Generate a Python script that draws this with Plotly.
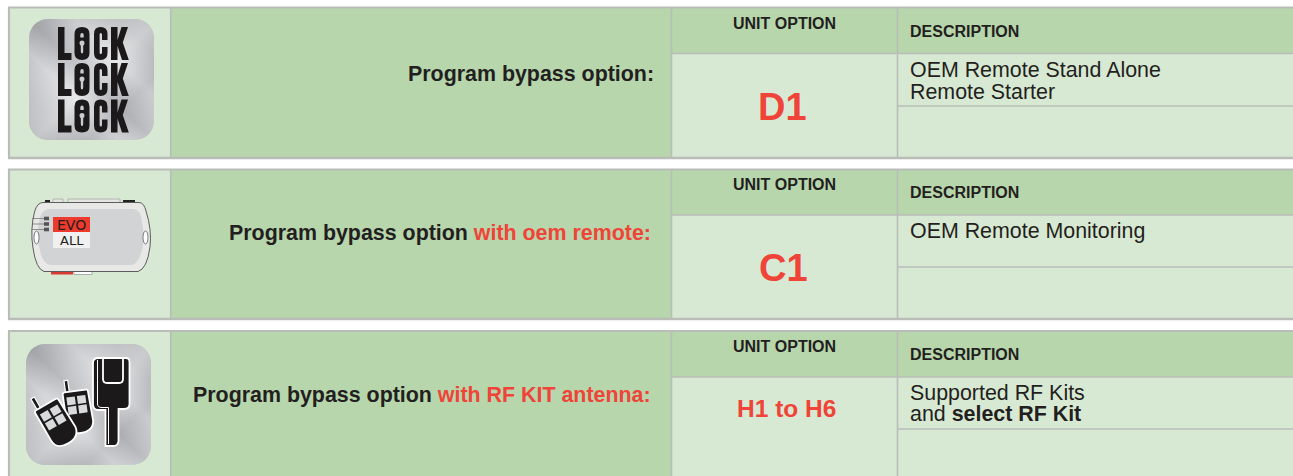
import base64
import math
import re
import plotly.graph_objects as go

# ---------- content ----------
label_main = ["Program bypass option:", "Program bypass option", "Program bypass option"]
label_red = ["", "with oem remote:", "with RF KIT antenna:"]
unit_header = ["UNIT OPTION", "UNIT OPTION", "UNIT OPTION"]
desc_header = ["DESCRIPTION", "DESCRIPTION", "DESCRIPTION"]
unit_values = ["D1", "C1", "H1 to H6"]
desc_line1 = ["OEM Remote Stand Alone", "OEM Remote Monitoring", "Supported RF Kits"]
desc_line2 = ["Remote Starter", "", "and <b>select RF Kit</b>"]

# ---------- styles ----------
LIGHT = "#d8e9d3"
DARK = "#b7d6ac"
GRID = "#b8bdb8"
INK = "#231f20"
RED = "#ef4437"
FONT = "Liberation Sans"

W, H = 1293, 476
tops = [7.5, 169.5, 331]
hdrs = [53.5, 215, 377]
mids = [106, 267, 429]
bottoms = [158, 319, 481]
label_right = [654, 651, 651]
unit_sizes = [38, 38, 24.5]
unit_x = [782.5, 783.5, 786]
label_y = [74, 233, 395]
unit_h_y = [23.5, 184.5, 346.5]
desc_h_y = [31.5, 192.5, 354.5]
unit_y = [107, 268, 408]
line1_y = [70, 231, 393]
line2_y = [92, None, 414]

shapes, annots = [], []


def rect(x0, y0, x1, y1, fill, layer="below"):
    shapes.append(dict(type="rect", xref="x", yref="y", x0=x0, y0=y0, x1=x1, y1=y1,
                       fillcolor=fill, line=dict(width=0), layer=layer))


def hline(x0, x1, y, width=1.6):
    shapes.append(dict(type="line", xref="x", yref="y", x0=x0, x1=x1, y0=y, y1=y,
                       line=dict(color=GRID, width=width), layer="below"))


def vline(x, y0, y1, width=1.6):
    shapes.append(dict(type="line", xref="x", yref="y", x0=x, x1=x, y0=y0, y1=y1,
                       line=dict(color=GRID, width=width), layer="below"))


def path(d, fill=None, line=None, lw=0, layer="above"):
    s = dict(type="path", xref="x", yref="y", path=d, layer=layer,
             line=dict(width=lw, color=line or "rgba(0,0,0,0)"))
    s["fillcolor"] = fill if fill else "rgba(0,0,0,0)"
    shapes.append(s)


def shift(d, dx=0, dy=0):
    out, cmd, idx = [], "", 0
    for tok in re.findall(r"[MLHVQCZ]|-?\d+\.?\d*", d):
        if tok.isalpha():
            cmd, idx = tok, 0
            out.append(tok)
            continue
        v = float(tok)
        if cmd == "H":
            v += dx
        elif cmd == "V":
            v += dy
        else:
            v += dx if idx % 2 == 0 else dy
        idx += 1
        out.append(f"{v:.2f}")
    res = ""
    prev_num = False
    for t in out:
        if t.isalpha():
            res += t
            prev_num = False
        else:
            res += ("," if prev_num else "") + t
            prev_num = True
    return res


def place(d, cx, cy, deg, k=1.0):
    """scale and rotate a local-coordinate path (M L Q Z only) and move it"""
    a = math.radians(deg)
    out, buf = [], []
    for tok in re.findall(r"[MLQZ]|-?\d+\.?\d*", d):
        if tok.isalpha():
            out.append(tok)
            continue
        buf.append(float(tok) * k)
        if len(buf) == 2:
            x, y = buf
            buf = []
            out.append(f"{cx + x * math.cos(a) - y * math.sin(a):.2f},{cy + x * math.sin(a) + y * math.cos(a):.2f}")
    res = ""
    for i, t in enumerate(out):
        if i and not t.isalpha() and not out[i - 1].isalpha():
            res += " "
        res += t
    return res


def text(x, y, s, size, anchor, color=INK, font=FONT):
    annots.append(dict(x=x, y=y, xref="x", yref="y", text=s, showarrow=False, xanchor=anchor,
                       yanchor="middle", font=dict(family=font, size=size, color=color),
                       borderpad=0, borderwidth=0))


# ---------- table panels ----------
for i, t in enumerate(tops):
    bottom, hdr, mid = bottoms[i], hdrs[i], mids[i]
    rect(9, t, 171, bottom, LIGHT)
    rect(171, t, 1293, hdr, DARK)
    rect(171, t, 671, bottom, DARK)
    rect(671, hdr, 1293, bottom, LIGHT)
    hline(8, 1293, t, 1.8)
    hline(8, 1293, bottom, 2.4)
    hline(671, 1293, hdr)
    hline(897, 1293, mid)
    vline(9, t, bottom, 2.2)
    vline(170.7, t, bottom)
    vline(671.5, t, bottom)
    vline(897.5, t, bottom)

    lab = label_main[i]
    if label_red[i]:
        lab += f" <span style='color:{RED}'>{label_red[i]}</span>"
    text(label_right[i], label_y[i], f"<b>{lab}</b>", 21.4, "right")
    text(784.5, unit_h_y[i], f"<b>{unit_header[i]}</b>", 16, "center")
    text(910, desc_h_y[i], f"<b>{desc_header[i]}</b>", 16, "left")
    text(unit_x[i], unit_y[i], f"<b>{unit_values[i]}</b>", unit_sizes[i], "center", RED)
    text(910, line1_y[i], desc_line1[i], 21.4, "left")
    if desc_line2[i]:
        text(910, line2_y[i], desc_line2[i], 21.4, "left")

# ---------- brushed metal tiles ----------
METAL = """<svg xmlns='http://www.w3.org/2000/svg' width='250' height='242' viewBox='0 0 125 121'>
<defs>
<linearGradient id='a' x1='0' y1='1' x2='1' y2='0'>
<stop offset='0' stop-color='#8f9195'/><stop offset='.2' stop-color='#b7b9bc'/>
<stop offset='.36' stop-color='#e2e3e5'/><stop offset='.5' stop-color='#adafb3'/>
<stop offset='.68' stop-color='#e0e1e3'/><stop offset='.85' stop-color='#aeb0b3'/>
<stop offset='1' stop-color='#9fa1a5'/></linearGradient>
<linearGradient id='b' x1='0' y1='0' x2='1' y2='1'>
<stop offset='0' stop-color='#8b8d91'/><stop offset='.28' stop-color='#c8c9cc'/>
<stop offset='.52' stop-color='#eeeff0'/><stop offset='.74' stop-color='#a9abaf'/>
<stop offset='1' stop-color='#d6d7d9'/></linearGradient>
</defs>
<rect width='125' height='121' rx='19' fill='url(#a)'/>
<rect width='125' height='121' rx='19' fill='url(#b)' opacity='.5'/>
</svg>"""
metal_src = "data:image/svg+xml;base64," + base64.b64encode(METAL.encode()).decode()
images = [
    dict(source=metal_src, xref="x", yref="y", x=29, y=19, sizex=125, sizey=121,
         sizing="stretch", layer="above", xanchor="left", yanchor="top"),
    dict(source=metal_src, xref="x", yref="y", x=26, y=344, sizex=125, sizey=121,
         sizing="stretch", layer="above", xanchor="left", yanchor="top"),
]

# ---------- LOCK LOCK LOCK artwork ----------
BLACK = "#1b191a"
HOLE = "#c9cbcd"
G_L = "M58,27 H64.5 V53 H71.5 V60 H58 Z"
G_O = "M74.5,34 Q74.5,27 82,27 Q89.5,27 89.5,34 V53 Q89.5,60 82,60 Q74.5,60 74.5,53 Z"
G_O_TOP = "M80.3,35 Q80.3,33 82,33 Q83.7,33 83.7,35 V37.5 H80.3 Z"
G_O_KEY = ("M79.5,43 Q79.5,40.5 82,40.5 Q84.5,40.5 84.5,43 Q84.5,44.8 83.2,45.7 V51.5 Q83.2,53.5 82,53.5 "
           "Q80.8,53.5 80.8,51.5 V45.7 Q79.5,44.8 79.5,43 Z")
G_C = ("M94,34 Q94,27 100.5,27 Q107.5,27 107.5,34 V40 H102 V34.5 Q102,33 100.7,33 "
       "Q99.6,33 99.6,34.5 V52.5 Q99.6,54 100.7,54 Q102,54 102,52.5 V47 H107.5 V53 "
       "Q107.5,60 100.5,60 Q94,60 94,53 Z")
G_K = "M111,27 H117.5 V40 L121.5,27 H128 L122.8,42.5 L128.8,60 H122 L117.5,46 V60 H111 Z"
for dy in (0, 36, 72.5):
    for g in (G_L, G_O, G_C, G_K):
        path(shift(g, 0, dy), fill=BLACK)
    path(shift(G_O_TOP, 0, dy), fill=HOLE)
    path(shift(G_O_KEY, 0, dy), fill=HOLE)

# ---------- EVO ALL module artwork ----------
EDGE = "#5c5c5e"
rect(45, 200, 50, 203, "#222222", "above")
for x0, x1 in ((53, 63), (68, 120)):
    shapes.append(dict(type="rect", xref="x", yref="y", x0=x0, x1=x1, y0=199, y1=203,
                       fillcolor="#e4e7e1", line=dict(color="#a6a8a6", width=0.8), layer="above"))
rect(123, 200, 135, 203.5, "#222222", "above")
rect(51, 271, 73, 274.5, "#d63a30", "above")
shapes.append(dict(type="rect", xref="x", yref="y", x0=74, x1=92, y0=271, y1=274.5,
                   fillcolor="#ffffff", line=dict(color="#9a9a9a", width=0.8), layer="above"))
path("M43,202.5 L139,202.5 Q144,202.5 146,211 Q152,230 150,247 Q147,269 138,271.5 L44,271.5 "
     "Q36,269 33,248 Q30,230 34.5,212 Q37,202.5 43,202.5 Z", fill="#e8e9e7", line=EDGE, lw=1)
path("M48,209 L134,209 Q141,210 142,222 Q145,238 142,250 Q139,263 132,265 L50,265 "
     "Q42,263 40,250 Q36,238 39,222 Q41,210 48,209 Z", fill="#d2d3d5")
for x0, x1 in ((34, 39), (143, 148)):
    shapes.append(dict(type="circle", xref="x", yref="y", x0=x0, x1=x1, y0=231, y1=244,
                       fillcolor="#ffffff", line=dict(color=EDGE, width=0.8), layer="above"))
for yy in (218.5, 224, 229.5):
    shapes.append(dict(type="line", xref="x", yref="y", x0=32, x1=45, y0=yy, y1=yy,
                       line=dict(color="#777777", width=0.8), layer="above"))
    rect(44, yy - 1.8, 49, yy + 1.8, "#555555", "above")
rect(53, 217, 90, 232, "#ee3a2c", "above")
rect(53, 232, 90, 248, "#f0f0f0", "above")
text(71.5, 225, "EVO", 14, "center", "#231f20", "DejaVu Sans")
text(71.5, 240.5, "ALL", 13, "center", "#231f20", "DejaVu Sans")

# ---------- remotes and antenna artwork ----------
WHITE = "#ffffff"
R_BODY = ("M-10,-20 L10,-20 Q12,-20 12,-18 L13,10 Q12,20 0,20 Q-12,20 -12,10 L-12,-18 "
          "Q-12,-20 -10,-20 Z")
R_ANT = "M-9,-20 L-9,-31 L-5.5,-31 L-5.5,-20 Z"
R_BTNS = ["M-9,-15 L-1,-15 L-1,-7.5 L-9,-7.5 Z", "M1,-15 L9,-15 L9,-7.5 L1,-7.5 Z",
          "M-9,-6 L-1,-6 L-1,1.5 L-9,1.5 Z", "M1,-6 L9,-6 L9,1.5 L1,1.5 Z"]
for cx, cy, deg, k in ((78, 412, -8, 1.06), (57, 424, -30, 1.12)):
    path(place(R_ANT, cx, cy, deg, k), fill=BLACK, line=WHITE, lw=1.2)
    path(place(R_BODY, cx, cy, deg, k), fill=BLACK, line=WHITE, lw=1.8)
    for b in R_BTNS:
        path(place(b, cx, cy, deg, k), fill="#d9dadb")

path("M98,358 L126,358 Q129.5,358 129.5,362 V404 Q129.5,409 124,409 H118.5 V441 Q118,446 113,446 "
     "H105.5 V410 H98 Q93,410 93,404 V363 Q93,358 98,358 Z", fill=BLACK, line=WHITE, lw=1.8)
path("M97.5,360 V404 Q97.5,407.5 102,407.5 H108.5 V444", line=WHITE, lw=1)
path("M103,358 V379 Q103,383 107,383 H119 Q123,383 123,379 V358", line=WHITE, lw=1.8)

# ---------- figure ----------
fig = go.Figure()
fig.update_layout(
    width=W, height=H, margin=dict(l=0, r=0, t=0, b=0), autosize=False,
    paper_bgcolor="#ffffff", plot_bgcolor="#ffffff", showlegend=False,
    xaxis=dict(range=[0, W], visible=False, fixedrange=True),
    yaxis=dict(range=[H, 0], visible=False, fixedrange=True),
    shapes=shapes, annotations=annots, images=images,
)
fig.write_html("out.html", config=dict(displayModeBar=False, staticPlot=True),
               post_script="document.body.style.margin='0';document.body.style.overflow='hidden';")
